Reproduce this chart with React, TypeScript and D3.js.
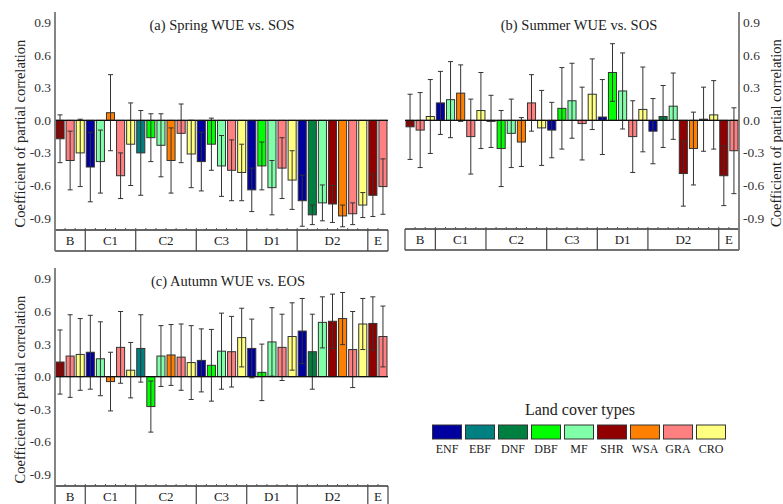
import * as d3 from 'd3';
import React from 'react';

// land cover types and colours
const types = ["ENF", "EBF", "DNF", "DBF", "MF", "SHR", "WSA", "GRA", "CRO"];
const typeColors = ["#0000a0", "#008080", "#008040", "#00ff00", "#80ffa8", "#900000", "#ff8000", "#ff8080", "#ffff80"];

// climate zones and the land cover types present in each
const zones = ["B", "C1", "C2", "C3", "D1", "D2", "E"];
const zoneTypes = [
    ["SHR", "GRA", "CRO"],
    ["ENF", "MF", "WSA", "GRA", "CRO"],
    ["EBF", "DBF", "MF", "WSA", "GRA", "CRO"],
    ["ENF", "DBF", "MF", "GRA", "CRO"],
    ["ENF", "DBF", "MF", "GRA", "CRO"],
    ["ENF", "DNF", "MF", "SHR", "WSA", "GRA", "CRO"],
    ["SHR", "GRA"]
];

// (a) spring WUE vs SOS
const springVal = [-0.17, -0.37, -0.30, -0.43, -0.38, 0.07, -0.51, -0.22, -0.30, -0.16, -0.23, -0.37, -0.12, -0.31,
    -0.38, -0.22, -0.42, -0.46, -0.48, -0.64, -0.42, -0.62, -0.44, -0.55,
    -0.74, -0.87, -0.76, -0.77, -0.88, -0.86, -0.78, -0.69, -0.61];
const springErr = [0.22, 0.27, 0.31, 0.32, 0.29, 0.35, 0.21, 0.38, 0.39, 0.22, 0.29, 0.30, 0.27, 0.31,
    0.27, 0.24, 0.28, 0.28, 0.26, 0.20, 0.22, 0.25, 0.28, 0.27,
    0.235, 0.09, 0.165, 0.17, 0.10, 0.10, 0.115, 0.195, 0.255];

// (b) summer WUE vs SOS
const summerVal = [-0.06, -0.09, 0.035, 0.16, 0.19, 0.25, -0.15, 0.09, -0.01, -0.26, -0.12, -0.20, 0.16, -0.07,
    -0.09, 0.11, 0.18, -0.03, 0.24, 0.03, 0.44, 0.27, -0.15, 0.10,
    -0.10, 0.035, 0.13, -0.49, -0.26, 0.01, 0.05, -0.51, -0.28];
const summerErr = [0.30, 0.345, 0.34, 0.29, 0.35, 0.26, 0.345, 0.35, 0.24, 0.35, 0.315, 0.225, 0.26, 0.345,
    0.255, 0.375, 0.345, 0.335, 0.325, 0.345, 0.265, 0.35, 0.33, 0.39,
    0.30, 0.285, 0.305, 0.30, 0.335, 0.295, 0.315, 0.275, 0.395];

// (c) autumn WUE vs EOS
const autumnVal = [0.135, 0.19, 0.205, 0.225, 0.165, -0.045, 0.27, 0.06, 0.26, -0.275, 0.19, 0.20, 0.18, 0.13,
    0.15, 0.105, 0.235, 0.23, 0.36, 0.26, 0.04, 0.32, 0.27, 0.37,
    0.42, 0.23, 0.50, 0.51, 0.535, 0.25, 0.485, 0.49, 0.37];
const autumnErr = [0.295, 0.38, 0.33, 0.34, 0.34, 0.27, 0.33, 0.255, 0.31, 0.235, 0.28, 0.28, 0.305, 0.34,
    0.29, 0.33, 0.35, 0.325, 0.27, 0.27, 0.26, 0.315, 0.305, 0.31,
    0.30, 0.345, 0.235, 0.25, 0.24, 0.35, 0.235, 0.245, 0.28];

const yTicks = [0.9, 0.6, 0.3, 0.0, -0.3, -0.6, -0.9];

const FONT = "Liberation Serif, Times New Roman, serif";
const color = d3.scaleOrdinal<string, string>().domain(types).range(typeColors);
const barTypes = zoneTypes.flat();

function Panel({ left, right, top, zeroY, bandTop, bandBot, vals, errs, title, titleX, side }) {
    const idx = d3.range(barTypes.length);
    const x = d3.scaleBand<number>().domain(idx).range([left, right]).paddingInner(0.2).paddingOuter(0.1);
    const y = d3.scaleLinear().domain([-0.9, 0.9]).range([zeroY + 97.8, zeroY - 97.8]);
    const slot = (right - left) / barTypes.length;
    const bounds = Array.from(d3.cumsum(zoneTypes.map(z => z.length)));
    const axisX = side === "left" ? left : right;
    const labelX = side === "left" ? 20 : 776;
    const labelY = (top + bandBot) / 2 + 2;

    return (
        <g>
            <text x={titleX} y={top + 18} textAnchor="middle" fontSize={14.5} fontFamily={FONT} fill="#222">{title}</text>
            {yTicks.map(t => (
                <text key={t} x={side === "left" ? left - 4 : right + 4} y={y(t)} dominantBaseline="central"
                    textAnchor={side === "left" ? "end" : "start"} fontSize={13.5} fontFamily={FONT} fill="#333">
                    {t.toFixed(1)}
                </text>
            ))}
            <text transform={`translate(${labelX},${labelY}) rotate(-90)`} textAnchor="middle" dominantBaseline="central"
                fontSize={14.5} fontFamily={FONT} fill="#222">Coefficient of partial correlation</text>

            {/* bars */}
            {idx.map(i => {
                const v = vals[i];
                return (
                    <rect key={i} x={x(i)} width={x.bandwidth()} y={Math.min(y(v), y(0))}
                        height={Math.abs(y(v) - y(0))} fill={color(barTypes[i])} stroke="#333" strokeWidth={1} />
                );
            })}
            {/* error bars */}
            {idx.map(i => {
                const cx = x(i) + x.bandwidth() / 2;
                const y1 = y(vals[i] + errs[i]);
                const y2 = y(vals[i] - errs[i]);
                return (
                    <g key={i} stroke="#333" strokeWidth={1}>
                        <line x1={cx} x2={cx} y1={y1} y2={y2} />
                        <line x1={cx - 2.5} x2={cx + 2.5} y1={y1} y2={y1} />
                        <line x1={cx - 2.5} x2={cx + 2.5} y1={y2} y2={y2} />
                    </g>
                );
            })}
            <line x1={left} x2={right} y1={y(0)} y2={y(0)} stroke="#111" strokeWidth={1.2} />

            {/* zone band */}
            <line x1={left} x2={right} y1={bandTop} y2={bandTop} stroke="#333" strokeWidth={1.3} />
            <line x1={left} x2={right} y1={bandBot} y2={bandBot} stroke="#444" strokeWidth={1.3} />
            {d3.range(1, barTypes.length).map(k => (
                <line key={k} x1={left + k * slot} x2={left + k * slot} y1={bandTop} y2={bandTop - 2} stroke="#555" />
            ))}
            {bounds.slice(0, -1).map((b, k) => (
                <line key={k} x1={left + b * slot} x2={left + b * slot} y1={bandTop} y2={bandBot} stroke="#444" strokeWidth={1.2} />
            ))}
            <line x1={side === "left" ? right : left} x2={side === "left" ? right : left} y1={bandTop} y2={bandBot} stroke="#444" strokeWidth={1.2} />
            {zones.map((z, k) => {
                const s = k === 0 ? 0 : bounds[k - 1];
                const cx = left + ((s + bounds[k]) / 2) * slot;
                return (
                    <text key={z} x={cx} y={bandTop + 15} textAnchor="middle" fontSize={13} fontFamily={FONT} fill="#222">{z}</text>
                );
            })}
            <line x1={axisX} x2={axisX} y1={top} y2={bandBot} stroke="#777" strokeWidth={1.8} />
        </g>
    );
}

function Legend() {
    const x = d3.scalePoint<string>().domain(types).range([447, 711]);
    return (
        <g fontFamily={FONT}>
            <text x={580} y={415} textAnchor="middle" fontSize={16} fill="#222">Land cover types</text>
            {types.map(t => (
                <g key={t}>
                    <rect x={x(t) - 14.5} y={425} width={29} height={14} fill={color(t)} stroke="#333" strokeWidth={1} />
                    <text x={x(t)} y={453} textAnchor="middle" fontSize={12} fill="#222">{t}</text>
                </g>
            ))}
        </g>
    );
}

export default function App() {
    return (
        <svg width={783} height={504} style={{ position: 'absolute', left: 0, top: 0, background: '#fff' }}>
            <Panel left={55} right={388} top={12} zeroY={120.3} bandTop={230} bandBot={251}
                vals={springVal} errs={springErr} title="(a) Spring WUE vs. SOS" titleX={222} side="left" />
            <Panel left={405} right={739} top={12} zeroY={120.3} bandTop={229} bandBot={250}
                vals={summerVal} errs={summerErr} title="(b) Summer WUE vs. SOS" titleX={579} side="right" />
            <Panel left={55} right={388} top={268} zeroY={376.7} bandTop={486} bandBot={507}
                vals={autumnVal} errs={autumnErr} title="(c) Autumn WUE vs. EOS" titleX={228} side="left" />
            <Legend />
        </svg>
    );
}
